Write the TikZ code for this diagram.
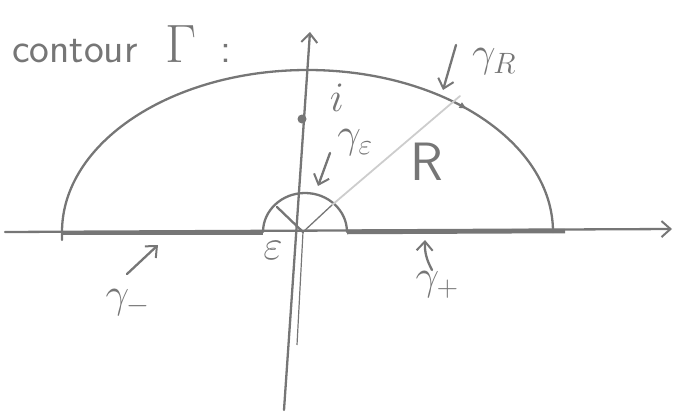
\RequirePackage{fix-cm}
\documentclass[tikz,border=0pt]{standalone}
\usetikzlibrary{arrows.meta,decorations.markings}
\definecolor{inkc}{RGB}{118,118,118}
\definecolor{lightc}{RGB}{205,205,205}
\begin{document}
\begin{tikzpicture}[x=1pt,y=-1pt,
  ink/.style={draw=inkc, line width=2.3pt, line cap=round, line join=round},
  thickseg/.style={draw=inkc, line width=4.5pt},
  barb/.style={-{Straight Barb[length=9pt,width=16pt,line width=2pt]}},
  lbl/.style={text=inkc, inner sep=0pt, font=\fontsize{42}{42}\selectfont},
  ttl/.style={text=inkc, inner sep=0pt, font=\fontsize{42}{42}\selectfont}]
\useasboundingbox (0,0) rectangle (678,413);
% title
\node[ttl, anchor=base west] (title) at (12,62) {\sffamily contour\hspace{28pt}{\fontsize{54}{54}\selectfont$\Gamma$}\hspace{24pt}:};
% axes
\coordinate (xl) at (5,232);
\coordinate (xr) at (672,229);
\coordinate (yb) at (284,410);
\coordinate (yt) at (310,32);
\coordinate (O) at (303,232);
\draw[ink, barb] (xl) -- (xr);
\draw[ink, barb] (yb) -- (yt);
\draw[draw=inkc, line width=1.2pt] (O) -- (297,345);
% thick segments (gamma_- and gamma_+)
\coordinate (ml) at (62,233);
\coordinate (mr) at (263,233);
\coordinate (pl) at (347,232);
\coordinate (pr) at (565,231);
\draw[thickseg] (ml) -- (mr);
\draw[thickseg] (pl) -- (pr);
% big arc gamma_R
\draw[ink, postaction={decorate}, decoration={markings, mark=at position 0.76 with {\arrow{Latex[length=8pt,width=7pt]}}}]
  (62,240) -- (62,232) arc[start angle=180, end angle=0, x radius=245.5pt, y radius=162pt];
% small arc gamma_epsilon
\draw[ink] (263,232) arc[start angle=180, end angle=0, x radius=42pt, y radius=39pt];
% radius lines
\coordinate (Rend) at (460,96);
\coordinate (sp1) at (277,207);
\coordinate (sp2) at (332,205);
\draw[draw=lightc, line width=1.8pt, line cap=round] (sp2) -- (Rend);
\draw[draw=inkc, line width=1.3pt] (O) -- (sp2);
\draw[ink] (O) -- (sp1);
% point i
\node[circle, fill=inkc, inner sep=0pt, minimum size=9pt] (dot) at (302,119) {};
\node[lbl] (ilbl) at (337,98) {$i$};
% labels
\node[lbl] (geps) at (355,143) {$\gamma_{\varepsilon}$};
\coordinate (ge1) at (330,153);
\coordinate (ge2) at (318,186);
\draw[ink, barb] (ge1) -- (ge2);
\node[lbl] (eps) at (273,250) {$\varepsilon$};
\node[lbl] (gR) at (494,62) {$\gamma_{R}$};
\coordinate (gR1) at (456,45);
\coordinate (gR2) at (443,90);
\draw[ink, barb] (gR1) -- (gR2);
\node[lbl, font=\fontsize{54}{54}\selectfont] (Rl) at (427,162) {\sffamily R};
\node[lbl] (gp) at (437,285) {$\gamma_{+}$};
\coordinate (gp1) at (432,270);
\coordinate (gp2) at (425,240);
\draw[ink, barb] (gp1) to[bend left=15] (gp2);
\node[lbl] (gm) at (128,303) {$\gamma_{-}$};
\coordinate (gm1) at (127,274);
\coordinate (gm2) at (158,245);
\draw[ink, barb] (gm1) -- (gm2);
\end{tikzpicture}
\end{document}
